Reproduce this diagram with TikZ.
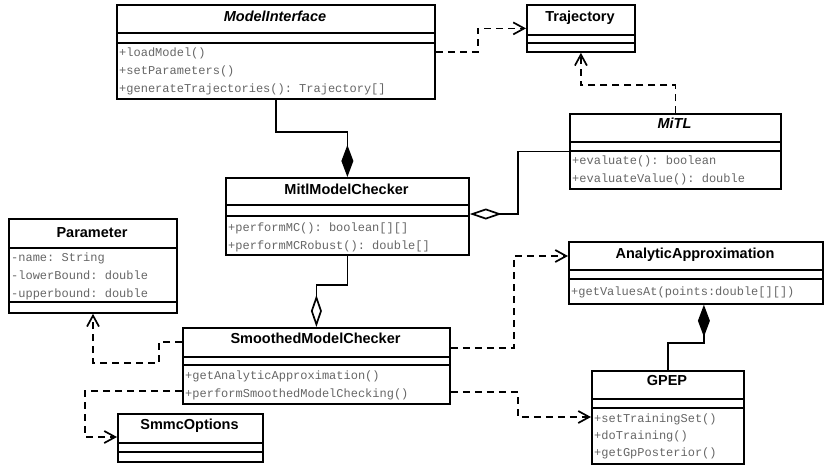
\documentclass[tikz,border=0pt]{standalone}
\usepackage{fontspec}
\setmainfont{Liberation Sans}
\setmonofont{Liberation Mono}
\usetikzlibrary{arrows.meta,calc}
\begin{document}
\begin{tikzpicture}[x=1pt,y=-1pt,
  cls/.style={draw, line width=1.8pt, inner sep=0pt, anchor=north west},
  ttl/.style={font=\bfseries\fontsize{14.5}{15}\selectfont, inner sep=0pt, anchor=base},
  ittl/.style={font=\bfseries\itshape\fontsize{14.5}{15}\selectfont, inner sep=0pt, anchor=base},
  mth/.style={font=\ttfamily\fontsize{12}{12}\selectfont, text=black!60, inner sep=0pt, anchor=base west},
  sepl/.style={line width=1.8pt},
  dep/.style={line width=1.7pt, dash pattern=on 7pt off 5pt, -{Straight Barb[length=11pt,width=12pt,line width=1.7pt]}},
  comp/.style={line width=1.7pt, -{Diamond[length=32pt,width=12pt]}},
  aggr/.style={line width=1.7pt, -{Diamond[open,length=32pt,width=11pt,line width=1.7pt]}},
]
\useasboundingbox (0,0) rectangle (827,466);

% ModelInterface
\node[cls, minimum width=318pt, minimum height=94pt] (mi) at (116,4) {};
\node[ittl] (mit) at (275,21) {ModelInterface};
\draw[sepl] ($(mi.north west)+(0,29)$) -- ($(mi.north east)+(0,29)$);
\draw[sepl] ($(mi.north west)+(0,39)$) -- ($(mi.north east)+(0,39)$);
\node[mth] (mim1) at (119,56) {+loadModel()};
\node[mth] (mim2) at (119,74) {+setParameters()};
\node[mth] (mim3) at (119,92) {+generateTrajectories(): Trajectory[]};

% Trajectory
\node[cls, minimum width=108pt, minimum height=47pt] (tr) at (526,4) {};
\node[ttl] (trt) at (580,21) {Trajectory};
\draw[sepl] ($(tr.north west)+(0,31)$) -- ($(tr.north east)+(0,31)$);
\draw[sepl] ($(tr.north west)+(0,39)$) -- ($(tr.north east)+(0,39)$);

% MiTL
\node[cls, minimum width=211pt, minimum height=75pt] (mitl) at (569,113) {};
\node[ittl] (mitlt) at (674.5,128) {MiTL};
\draw[sepl] ($(mitl.north west)+(0,29)$) -- ($(mitl.north east)+(0,29)$);
\draw[sepl] ($(mitl.north west)+(0,38)$) -- ($(mitl.north east)+(0,38)$);
\node[mth] (mitlm1) at (572,164) {+evaluate(): boolean};
\node[mth] (mitlm2) at (572,182) {+evaluateValue(): double};

% MitlModelChecker
\node[cls, minimum width=243pt, minimum height=77pt] (mmc) at (225,177) {};
\node[ttl] (mmct) at (346.5,194) {MitlModelChecker};
\draw[sepl] ($(mmc.north west)+(0,28)$) -- ($(mmc.north east)+(0,28)$);
\draw[sepl] ($(mmc.north west)+(0,39)$) -- ($(mmc.north east)+(0,39)$);
\node[mth] (mmcm1) at (228,231) {+performMC(): boolean[][]};
\node[mth] (mmcm2) at (228,249) {+performMCRobust(): double[]};

% Parameter
\node[cls, minimum width=168pt, minimum height=94pt] (par) at (8,218) {};
\node[ttl] (part) at (92,237) {Parameter};
\draw[sepl] ($(par.north west)+(0,30)$) -- ($(par.north east)+(0,30)$);
\draw[sepl] ($(par.north west)+(0,84)$) -- ($(par.north east)+(0,84)$);
\node[mth] (para1) at (11,261) {-name: String};
\node[mth] (para2) at (11,279) {-lowerBound: double};
\node[mth] (para3) at (11,297) {-upperbound: double};

% AnalyticApproximation
\node[cls, minimum width=254pt, minimum height=62pt] (aa) at (568,241) {};
\node[ttl] (aat) at (695,258) {AnalyticApproximation};
\draw[sepl] ($(aa.north west)+(0,29)$) -- ($(aa.north east)+(0,29)$);
\draw[sepl] ($(aa.north west)+(0,38)$) -- ($(aa.north east)+(0,38)$);
\node[mth] (aam1) at (571,295) {+getValuesAt(points:double[][])};

% SmoothedModelChecker
\node[cls, minimum width=267pt, minimum height=76pt] (smc) at (182,327) {};
\node[ttl] (smct) at (315.5,343) {SmoothedModelChecker};
\draw[sepl] ($(smc.north west)+(0,30)$) -- ($(smc.north east)+(0,30)$);
\draw[sepl] ($(smc.north west)+(0,38)$) -- ($(smc.north east)+(0,38)$);
\node[mth] (smcm1) at (185,379) {+getAnalyticApproximation()};
\node[mth] (smcm2) at (185,397) {+performSmoothedModelChecking()};

% GPEP
\node[cls, minimum width=152pt, minimum height=93pt] (gp) at (591,370) {};
\node[ttl] (gpt) at (667,385) {GPEP};
\draw[sepl] ($(gp.north west)+(0,29)$) -- ($(gp.north east)+(0,29)$);
\draw[sepl] ($(gp.north west)+(0,38)$) -- ($(gp.north east)+(0,38)$);
\node[mth] (gpm1) at (594,422) {+setTrainingSet()};
\node[mth] (gpm2) at (594,439) {+doTraining()};
\node[mth] (gpm3) at (594,456) {+getGpPosterior()};

% SmmcOptions
\node[cls, minimum width=145pt, minimum height=48pt] (so) at (117,413) {};
\node[ttl] (sot) at (189.5,429) {SmmcOptions};
\draw[sepl] ($(so.north west)+(0,30)$) -- ($(so.north east)+(0,30)$);
\draw[sepl] ($(so.north west)+(0,39)$) -- ($(so.north east)+(0,39)$);

% connectors
\draw[dep] (mi.east) -- ++(42,0) |- (tr.west);
\draw[dep] (mitl.north) -- ++(0,-28) -| (tr.south);
\draw[comp] (mi.south) -- ++(0,32) -| (mmc.north);
\draw[aggr] (mitl.west) -- ++(-51,0) |- ($(mmc.north east)+(0,37)$);
\draw[aggr] (mmc.south) -- ++(0,29) -| (smc.north);
\draw[comp] (gp.north) -- ++(0,-27) -| ($(aa.south)+(8,0)$);
\draw[dep] ($(smc.north east)+(0,21)$) -- ++(63,0) |- ($(aa.north west)+(0,15)$);
\draw[dep] ($(smc.north west)+(0,15)$) -- ++(-23,0) -- ++(0,21) -| ($(par.south west)+(85,0)$);
\draw[dep] ($(smc.north west)+(0,64)$) -- ++(-97,0) |- ($(so.north west)+(0,24)$);
\draw[dep] ($(smc.north east)+(0,65)$) -- ++(67,0) |- ($(gp.north west)+(0,47)$);
\end{tikzpicture}
\end{document}
